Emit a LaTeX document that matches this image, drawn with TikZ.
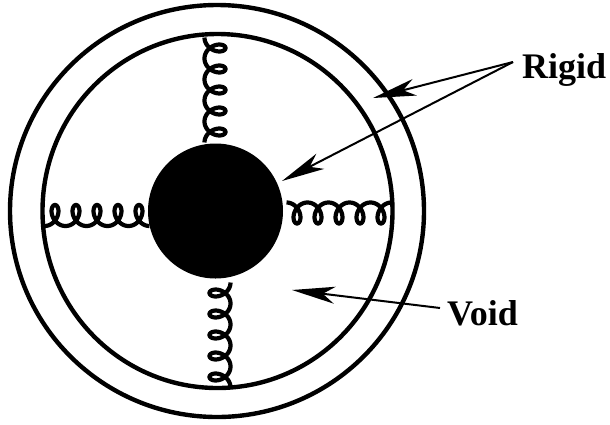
\documentclass[tikz,border=0pt]{standalone}
\usepackage{fontspec}
\setmainfont{Liberation Serif}
\usetikzlibrary{arrows.meta,shapes.geometric}
\tikzset{
  ring/.style 2 args={draw=black,line width=4.4pt,fill=none,ellipse,minimum width=#1,minimum height=#2,inner sep=0pt},
  core/.style={fill=black,circle,minimum size=#1,inner sep=0pt},
  spring/.style={line width=4.2pt,smooth,line join=round},
  pointer/.style={line width=2pt,-{Stealth[length=43pt,width=17pt,inset=12pt]}},
  tag/.style={font=\fontsize{36}{36}\selectfont\bfseries,anchor=base west,inner sep=0pt}
}
% #1 #2 first loop axis point, #3 #4 axis direction, #5 #6 loop direction
\newcommand{\springplot}[6]{%
  \draw[spring] plot[domain=-pi:9*pi,samples=260,variable=\t]
   ({#1+(#3)*(3.342*\t-8*sin(\t r))+(#5)*10.5*cos(\t r)},
    {#2+(#4)*(3.342*\t-8*sin(\t r))+(#6)*10.5*cos(\t r)});}
\begin{document}
\begin{tikzpicture}[x=1pt,y=-1pt]
\useasboundingbox (0,0) rectangle (610,424);
\node[ring={414pt}{412pt}] (outer) at (217,211) {};
\node[ring={350pt}{354pt}] (inner) at (217.5,211) {};
\node[core=135pt] (disk) at (215.5,211) {};
\springplot{215}{48}{0}{1}{1}{0}
\springplot{220}{293}{0}{1}{-1}{0}
\springplot{55}{215.5}{1}{0}{0}{-1}
\springplot{297}{213}{1}{0}{0}{1}
\node[tag] (rigid) at (522,78) {Rigid};
\node[tag] (void) at (447,325) {Void};
\coordinate (rs) at (513,62);
\coordinate (rt1) at (373,98);
\coordinate (rt2) at (282,181);
\coordinate (vs) at (440,308);
\coordinate (vt) at (292,290);
\draw[pointer] (rs) -- (rt1);
\draw[pointer] (rs) -- (rt2);
\draw[pointer] (vs) -- (vt);
\end{tikzpicture}
\end{document}
